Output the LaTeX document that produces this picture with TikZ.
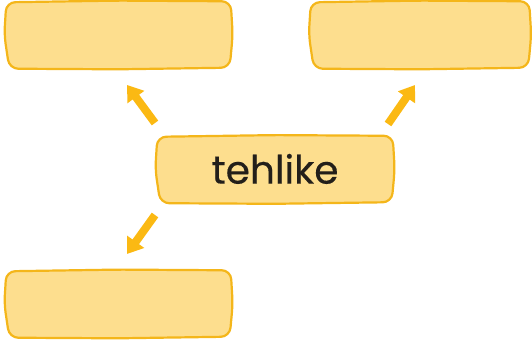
\documentclass[tikz,border=0pt]{standalone}
\usepackage{fontspec}
\setmainfont{Poppins}
\newfontfamily\labelfont[FakeBold=0.4]{Poppins}
\usetikzlibrary{arrows.meta,calc,backgrounds}
\definecolor{boxfill}{HTML}{FDDE8E}
\definecolor{boxline}{HTML}{F4B61A}
\definecolor{arrowc}{HTML}{FBB913}
\definecolor{txt}{HTML}{231F1A}
\tikzset{
  box/.style={draw=none, fill=none, minimum height=67pt, inner sep=0pt, text=txt},
  boxshape/.style={draw=boxline, fill=boxfill, line width=2.2pt, rounded corners=9pt},
  bigarrow/.style={draw=arrowc, line width=8pt,
    -{Triangle[length=15pt,width=20pt]}}
}
\newcommand{\wobblebox}[1]{%
  \path[boxshape]
    ($(#1.north west)+(1,1)$) --
    ($(#1.north)+(0,-0.7)$) --
    ($(#1.north east)+(-1,0)$) --
    ($(#1.east)+(1,0)$) --
    ($(#1.south east)+(-2,-1)$) --
    ($(#1.south)+(0,0.6)$) --
    ($(#1.south west)+(4,0)$) --
    ($(#1.west)+(-1,0)$) -- cycle;}
\begin{document}
\begin{tikzpicture}[x=1pt,y=-1pt]
\useasboundingbox (0,0) rectangle (532,344);
\node[box, minimum width=226pt] (tl) at (118.5,35) {};
\node[box, minimum width=220pt] (tr) at (420,35) {};
\node[box, minimum width=237pt] (c) at (275,169.5)
  {\raisebox{1.5pt}{\resizebox{127pt}{!}{\labelfont\fontsize{40}{48}\selectfont tehlike}}};
\node[box, minimum width=226pt] (bl) at (118.5,304) {};
\begin{pgfonlayer}{background}
\wobblebox{tl}
\wobblebox{tr}
\wobblebox{c}
\wobblebox{bl}
\end{pgfonlayer}
\coordinate (a1s) at (155,123);
\coordinate (a1e) at (127,85);
\coordinate (a2s) at (388,124);
\coordinate (a2e) at (415,85);
\coordinate (a3s) at (155,215);
\coordinate (a3e) at (127,254);
\draw[bigarrow] (a1s) -- (a1e);
\draw[bigarrow] (a2s) -- (a2e);
\draw[bigarrow] (a3s) -- (a3e);
\end{tikzpicture}
\end{document}
